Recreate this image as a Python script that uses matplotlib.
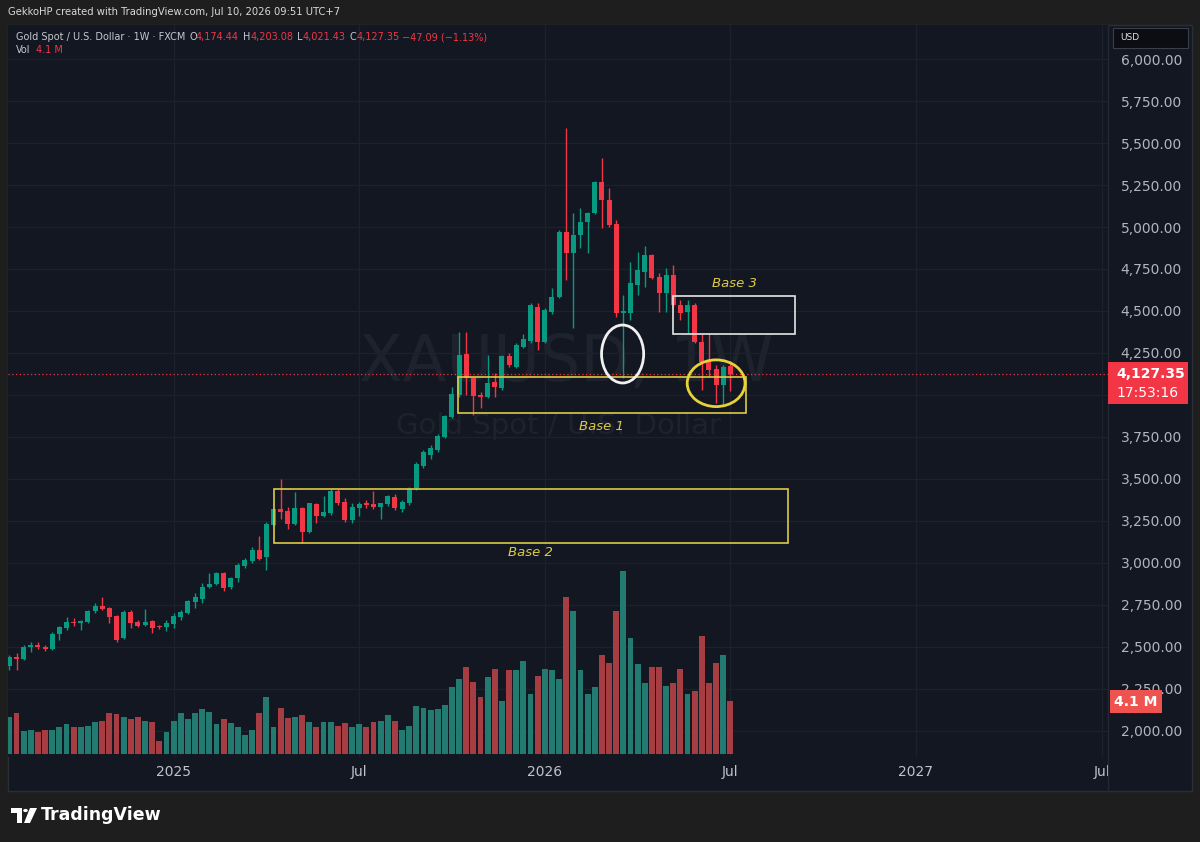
import numpy as np
import pandas as pd
import matplotlib
matplotlib.use("Agg")
import matplotlib.pyplot as plt
from matplotlib.patches import Rectangle, Ellipse, Polygon, Circle
from matplotlib.ticker import FixedLocator, FuncFormatter

# --- data: weekly XAUUSD candles ---
start = pd.Timestamp("2024-07-29")

opens = [2385, 2440, 2428, 2500, 2512, 2498, 2486, 2578, 2615, 2651,
         2643, 2648, 2712, 2742, 2730, 2683, 2552, 2710, 2651, 2629,
         2653, 2625, 2617, 2635, 2681, 2700, 2766, 2786, 2858, 2877,
         2939, 2855, 2909, 2982, 3010, 3078, 3034, 3227, 3320, 3312,
         3233, 3326, 3187, 3352, 3280, 3295, 3431, 3366, 3256, 3326,
         3356, 3350, 3332, 3352, 3395, 3320, 3356, 3445, 3577, 3640,
         3673, 3752, 3871, 4000, 4244, 4099, 4000, 3990, 4079, 4040,
         4232, 4169, 4284, 4323, 4526, 4318, 4496, 4585, 4972, 4843,
         4952, 5032, 5085, 5270, 5161, 5018, 4490, 4486, 4655, 4734,
         4833, 4704, 4605, 4714, 4536, 4496, 4536, 4317, 4198, 4153,
         4060, 4174.44]
highs = [2450, 2462, 2510, 2532, 2532, 2512, 2590, 2625, 2680, 2671,
         2661, 2722, 2760, 2796, 2740, 2690, 2720, 2722, 2662, 2724,
         2661, 2630, 2661, 2700, 2720, 2782, 2820, 2879, 2938, 2945,
         2949, 2915, 3000, 3030, 3098, 3161, 3245, 3325, 3500, 3336,
         3425, 3332, 3360, 3356, 3399, 3440, 3440, 3385, 3356, 3366,
         3375, 3431, 3360, 3405, 3410, 3375, 3450, 3600, 3673, 3700,
         3765, 3880, 4050, 4377, 4377, 4100, 4020, 4238, 4129, 4238,
         4248, 4308, 4362, 4545, 4550, 4515, 4635, 4980, 5587, 5081,
         5111, 5090, 5275, 5409, 5230, 5042, 4595, 4794, 4853, 4887,
         4840, 4725, 4754, 4774, 4565, 4565, 4546, 4367, 4367, 4180,
         4180, 4203.08]
lows = [2365, 2364, 2420, 2472, 2490, 2478, 2484, 2542, 2601, 2625,
        2601, 2642, 2705, 2720, 2641, 2532, 2545, 2611, 2618, 2625,
        2585, 2605, 2597, 2611, 2661, 2695, 2730, 2760, 2849, 2870,
        2835, 2845, 2889, 2970, 2998, 3018, 2957, 3220, 3260, 3201,
        3227, 3121, 3180, 3241, 3276, 3285, 3346, 3246, 3240, 3280,
        3330, 3320, 3260, 3340, 3318, 3305, 3345, 3435, 3565, 3620,
        3660, 3745, 3862, 3990, 4000, 3881, 3921, 3985, 3990, 4030,
        4165, 4160, 4278, 4310, 4268, 4310, 4485, 4580, 4685, 4397,
        4873, 4843, 5080, 4992, 5000, 4466, 4100, 4447, 4595, 4645,
        4690, 4496, 4496, 4525, 4447, 4367, 4307, 4030, 4109, 3950,
        3940, 4021.43]
closes = [2440, 2428, 2502, 2512, 2497, 2486, 2578, 2617, 2649, 2641,
          2652, 2716, 2744, 2728, 2680, 2542, 2710, 2645, 2625, 2651,
          2611, 2617, 2645, 2685, 2710, 2774, 2796, 2859, 2877, 2939,
          2850, 2909, 2988, 3020, 3078, 3025, 3233, 3320, 3306, 3235,
          3326, 3187, 3356, 3282, 3306, 3431, 3356, 3256, 3332, 3352,
          3346, 3332, 3356, 3399, 3326, 3366, 3439, 3589, 3663, 3683,
          3756, 3875, 4006, 4238, 4099, 3994, 3986, 4073, 4050, 4232,
          4179, 4298, 4331, 4536, 4318, 4506, 4585, 4972, 4843, 4952,
          5032, 5085, 5270, 5161, 5012, 4486, 4500, 4665, 4744, 4833,
          4695, 4605, 4714, 4536, 4491, 4536, 4317, 4198, 4149, 4060,
          4169, 4127.35]
volumes = [2.9, 3.2, 1.8, 1.9, 1.7, 1.9, 1.9, 2.1, 2.3, 2.1,
           2.1, 2.2, 2.5, 2.6, 3.2, 3.1, 2.9, 2.7, 2.9, 2.6,
           2.5, 1.0, 1.7, 2.6, 3.2, 2.7, 3.2, 3.5, 3.3, 2.3,
           2.7, 2.4, 2.1, 1.5, 1.9, 3.2, 4.4, 2.1, 3.6, 2.8,
           2.9, 3.0, 2.5, 2.1, 2.5, 2.5, 2.2, 2.4, 2.1, 2.3,
           2.1, 2.5, 2.6, 3.0, 2.6, 1.9, 2.2, 3.7, 3.6, 3.4,
           3.5, 3.8, 5.2, 5.8, 6.8, 5.6, 4.4, 6.0, 6.6, 4.1,
           6.5, 6.5, 7.2, 4.7, 6.1, 6.6, 6.5, 5.8, 12.2, 11.1,
           6.5, 4.7, 5.2, 7.7, 7.1, 11.1, 14.2, 9.0, 7.0, 5.5,
           6.8, 6.8, 5.3, 5.5, 6.6, 4.7, 4.9, 9.2, 5.5, 7.1,
           7.7, 4.1]

price_ticks = np.arange(2000, 6001, 250)
tick_dates = ["2025-01-06", "2025-07-07", "2026-01-05", "2026-07-06", "2027-01-04", "2027-07-05"]
tick_labels = ["2025", "Jul", "2026", "Jul", "2027", "Jul"]
last_price = 4127.35

BG = "#131722"
UP, DOWN = "#089981", "#f23645"
VUP, VDOWN = "#237a70", "#a53d42"
YEL = "#dccb45"
W, H = 1200, 842


def fx(px):
    return px / W


def fy(py):
    return 1 - py / H


fig = plt.figure(figsize=(12, 8.42), dpi=100)
fig.patch.set_facecolor("#1e1e1e")

# chart pane background
fig.add_artist(Rectangle((fx(8), fy(791)), fx(1184), (791 - 25) / H, transform=fig.transFigure,
                         facecolor=BG, edgecolor="#2a2e39", lw=1, zorder=-5))

ax = fig.add_axes([fx(8), fy(757), fx(1100), (757 - 25) / H])
ax.set_facecolor(BG)
for s in ax.spines.values():
    s.set_visible(False)

x = np.arange(len(opens))
o = np.array(opens)
c = np.array(closes)
up = c >= o
cols = np.where(up, UP, DOWN)

# grid
ax.set_axisbelow(True)
ax.grid(True, color="#1d212c", lw=1)

# watermark
ax.text(78.0, 4190, "XAUUSD, 1W", fontsize=46, color="#1e222d", ha="center", va="center", zorder=0.5)
ax.text(76.9, 3815, "Gold Spot / U.S. Dollar", fontsize=21, color="#1e222d", ha="center", va="center", zorder=0.5)

# candles
ax.vlines(x, lows, highs, colors=cols, lw=1, zorder=2)
body = np.maximum(np.abs(c - o), 4)
ax.bar(x, body, bottom=np.minimum(o, c), width=0.7, color=cols, zorder=3)

# current price line
ax.axhline(last_price, color=DOWN, ls=(0, (1, 2)), lw=0.9, zorder=1.5)

# annotations
ax.add_patch(Rectangle((62.9, 3893), 103.2 - 62.9, 4107 - 3893, fill=False, edgecolor=YEL, lw=1.2, zorder=4))
ax.add_patch(Rectangle((37.0, 3119), 109.1 - 37.0, 3440 - 3119, fill=False, edgecolor=YEL, lw=1.2, zorder=4))
ax.add_patch(Rectangle((93.0, 4363), 110.1 - 93.0, 4589 - 4363, fill=False, edgecolor="#e6e6e6", lw=1.2, zorder=4))
ax.add_patch(Ellipse((85.9, 4244), 5.9, 345, fill=False, edgecolor="#f0f0f0", lw=2, zorder=4))
ax.add_patch(Ellipse((99.0, 4070), 8.1, 278, fill=False, edgecolor="#e8d23a", lw=2, zorder=4))
for lx, ly, t in [(83.0, 3815, "Base 1"), (73.0, 3060, "Base 2"), (101.5, 4661, "Base 3")]:
    ax.text(lx, ly, t, fontsize=9.5, style="italic", color=YEL, ha="center", va="center", zorder=4)

# volume overlay (twinx moves the price ticks left, so set them afterwards)
axv = ax.twinx()
axv.bar(x, volumes, width=0.82, color=np.where(up, VUP, VDOWN), zorder=1)
axv.set_ylim(-0.23, 56.7)
axv.set_axis_off()

# axes setup
ax.set_xlim(-0.2, 153.9)
ax.set_ylim(1845.2, 6202.4)
tick_pos = [(pd.Timestamp(d) - start).days / 7 for d in tick_dates]
ax.xaxis.set_major_locator(FixedLocator(tick_pos))
ax.set_xticklabels(tick_labels)
ax.yaxis.tick_right()
ax.yaxis.set_major_locator(FixedLocator(price_ticks))
ax.yaxis.set_major_formatter(FuncFormatter(lambda v, p: f"{v:,.2f}"))
ax.tick_params(axis="y", length=0, pad=9, labelsize=10, labelcolor="#b2b5be",
               left=False, labelleft=False, right=True, labelright=True)
ax.tick_params(axis="x", length=0, pad=6, labelsize=10, labelcolor="#c0c3cc")

# separators
fig.add_artist(plt.Line2D([fx(1108), fx(1108)], [fy(25), fy(791)], color="#232733", lw=1, transform=fig.transFigure))

# header text
fig.text(fx(8), fy(12), "GekkoHP created with TradingView.com, Jul 10, 2026 09:51 UTC+7",
         fontsize=7.2, color="#d8d9dc", va="center")
fig.text(fx(16), fy(37), "Gold Spot / U.S. Dollar · 1W · FXCM", fontsize=7, color="#c5c8d0", va="center")
for px, t, col in [(189, "O", "#c5c8d0"), (196, "4,174.44", DOWN), (243, "H", "#c5c8d0"), (251, "4,203.08", DOWN),
                   (297, "L", "#c5c8d0"), (303, "4,021.43", DOWN), (350, "C", "#c5c8d0"), (357, "4,127.35", DOWN),
                   (402, "\u221247.09 (\u22121.13%)", DOWN)]:
    fig.text(fx(px), fy(37), t, fontsize=7, color=col, va="center")
fig.text(fx(16), fy(50), "Vol", fontsize=7, color="#c5c8d0", va="center")
fig.text(fx(36), fy(50), "4.1 M", fontsize=7, color=DOWN, va="center")

# USD box
fig.add_artist(Rectangle((fx(1113), fy(48)), fx(75), 20 / H, transform=fig.transFigure,
                         facecolor="#0b0d12", edgecolor="#3a3e48", lw=0.8, zorder=5))
fig.text(fx(1120), fy(38), "USD", fontsize=6.5, color="#e0e2e8", va="center", zorder=6)

# last price label
fig.add_artist(Rectangle((fx(1108), fy(404)), fx(80), 42 / H, transform=fig.transFigure,
                         facecolor=DOWN, edgecolor="none", zorder=5))
fig.text(fx(1116), fy(374), "4,127.35", fontsize=10, weight="bold", color="white", va="center", zorder=6)
fig.text(fx(1116), fy(393), "17:53:16", fontsize=10, color="white", va="center", zorder=6)

# volume label
fig.add_artist(Rectangle((fx(1110), fy(713)), fx(52), 23 / H, transform=fig.transFigure,
                         facecolor="#ef5350", edgecolor="none", zorder=5))
fig.text(fx(1136), fy(701.5), "4.1 M", fontsize=10, weight="bold", color="white", ha="center", va="center", zorder=6)

# TradingView logo
logo = [
    Polygon([(fx(11), fy(808)), (fx(22), fy(808)), (fx(22), fy(823)), (fx(17), fy(823)),
             (fx(17), fy(813)), (fx(11), fy(813))], closed=True),
    Circle((fx(25.5), fy(810.5)), 2.3 / W),
    Polygon([(fx(30), fy(808)), (fx(37), fy(808)), (fx(30), fy(823)), (fx(24), fy(823))], closed=True),
]
for p in logo:
    p.set_transform(fig.transFigure)
    p.set_facecolor("white")
    p.set_edgecolor("none")
    fig.add_artist(p)
fig.text(fx(41), fy(815), "TradingView", fontsize=12.5, weight="bold", color="white", va="center")

plt.savefig("out.png", dpi=100, facecolor=fig.get_facecolor())
